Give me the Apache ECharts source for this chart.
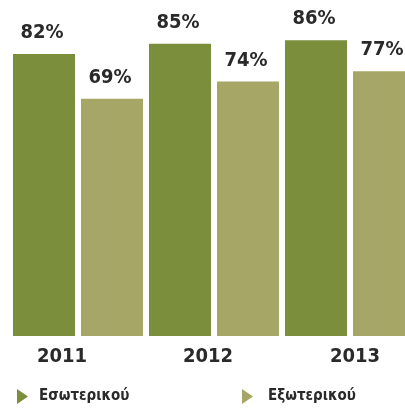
<!DOCTYPE html>
<html>
<head>
<meta charset="utf-8">
<script src="https://cdn.jsdelivr.net/npm/echarts@6/dist/echarts.min.js"></script>
<style>
html,body{margin:0;padding:0;background:#fff;}
#main{width:405px;height:409px;}
</style>
</head>
<body>
<div id="main"></div>
<script>
var years = ['2011', '2012', '2013'];
var seriesNames = ['Εσωτερικού', 'Εξωτερικού'];
var domestic = [82, 85, 86];
var foreign = [69, 74, 77];

var font = '"Liberation Sans Narrow", "DejaVu Sans Condensed", "Noto Sans", sans-serif';
var darkGreen = '#7a8e3c';
var lightGreen = '#a6a667';
var textColor = '#2a2a2a';

var myChart = echarts.init(document.getElementById('main'));

function valueLabel(){
	return {
		show: true,
		position: 'top',
		distance: 11,
		offset: [-2, 0],
		formatter: '{c}%',
		fontFamily: font,
		fontWeight: 'bold',
		fontSize: 20,
		color: textColor
	};
}

var option = {
	animation: false,
	backgroundColor: '#fff',
	grid: {
		left: 10,
		right: -13,
		top: 0,
		bottom: 73,
		containLabel: false,
		outerBoundsMode: 'none'
	},
	legend: [
		{
			data: [seriesNames[0]],
			left: 17,
			top: 389,
			padding: 0,
			itemWidth: 11,
			itemHeight: 15,
			icon: 'path://M0,0L11,7.5L0,15Z',
			textStyle: {fontFamily: font, fontWeight: 'bold', fontSize: 15, color: textColor, padding: [0, 0, 0, 6]}
		},
		{
			data: [seriesNames[1]],
			left: 242,
			top: 389,
			padding: 0,
			itemWidth: 11,
			itemHeight: 15,
			icon: 'path://M0,0L11,7.5L0,15Z',
			textStyle: {fontFamily: font, fontWeight: 'bold', fontSize: 15, color: textColor, padding: [0, 0, 0, 10]}
		}
	],
	xAxis: {
		type: 'category',
		data: years,
		axisLine: {show: false},
		axisTick: {show: false},
		axisLabel: {
			margin: 11,
			formatter: function(v, i){
				return '{y' + i + '|' + v + '}';
			},
			rich: {
				y0: {fontFamily: font, fontWeight: 'bold', fontSize: 20, color: textColor, padding: [0, 32, 0, 0]},
				y1: {fontFamily: font, fontWeight: 'bold', fontSize: 20, color: textColor, padding: [0, 12, 0, 0]},
				y2: {fontFamily: font, fontWeight: 'bold', fontSize: 20, color: textColor, padding: [0, 0, 0, 10]}
			}
		}
	},
	yAxis: {
		type: 'value',
		min: 0,
		max: 97.7,
		show: false,
		splitLine: {show: false}
	},
	series: [
		{
			name: seriesNames[0],
			type: 'bar',
			data: domestic,
			barWidth: 62,
			barGap: '9.7%',
			itemStyle: {color: darkGreen},
			label: valueLabel()
		},
		{
			name: seriesNames[1],
			type: 'bar',
			data: foreign,
			barWidth: 62,
			itemStyle: {color: lightGreen},
			label: valueLabel()
		}
	]
};

myChart.setOption(option);
</script>
</body>
</html>
